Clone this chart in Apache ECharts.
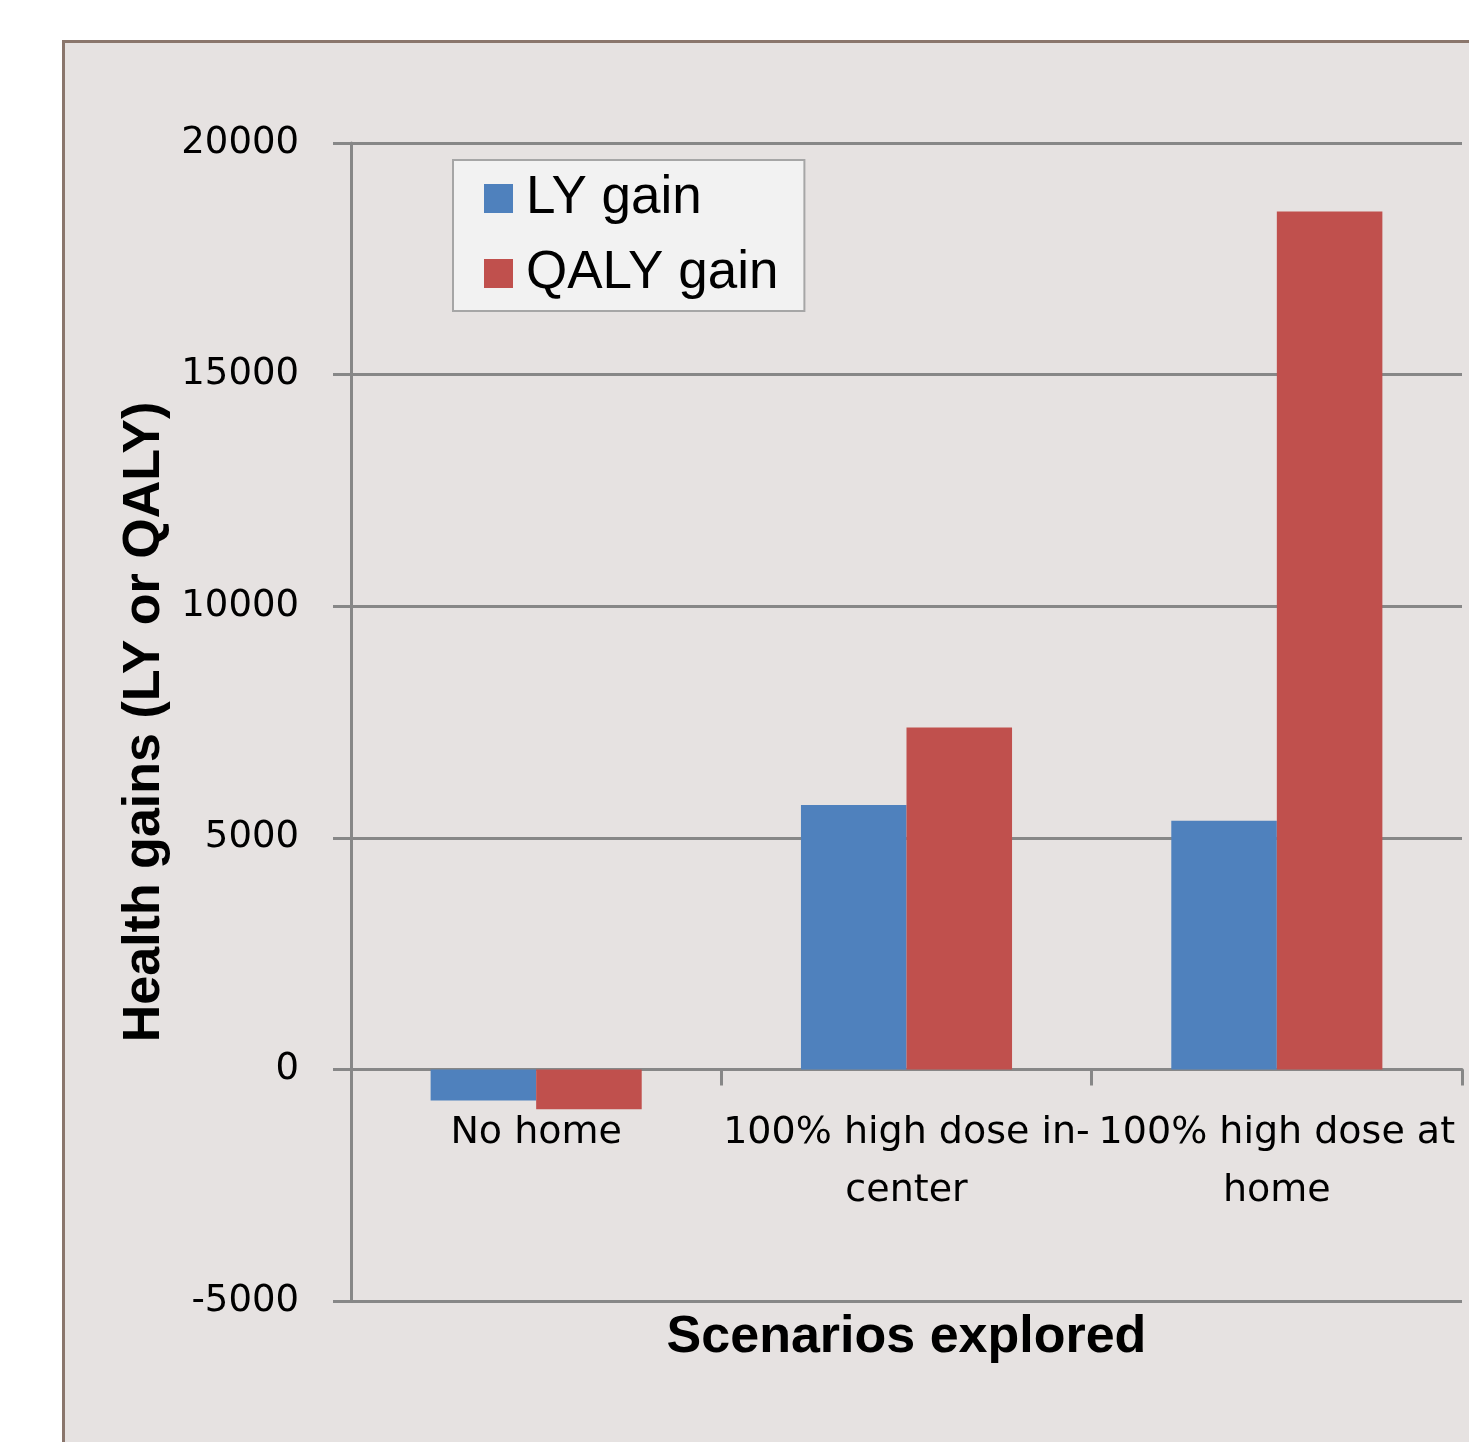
<!DOCTYPE html>
<html>
<head>
<meta charset="utf-8">
<script src="https://cdn.jsdelivr.net/npm/echarts@6/dist/echarts.min.js"></script>
<style>
html,body{margin:0;padding:0;background:#ffffff;width:1469px;height:1442px;overflow:hidden;}
#panel{position:absolute;left:62px;top:40px;width:1500px;height:1500px;background:#e6e2e1;border-left:3px solid #8a766c;border-top:3px solid #8a766c;box-sizing:border-box;}
#chart{position:absolute;left:0;top:0;width:1469px;height:1442px;}
</style>
</head>
<body>
<div id="panel"></div>
<div id="chart"></div>
<script>
const categories = ['No home', '100% high dose in-\ncenter', '100% high dose at\nhome'];
const seriesNames = ['LY gain', 'QALY gain'];
const lyGain = [-670, 5710, 5370];
const qalyGain = [-860, 7380, 18520];
const yTicks = [-5000, 0, 5000, 10000, 15000, 20000];

const chart = echarts.init(document.getElementById('chart'), null, {renderer: 'canvas'});
const gridColor = '#878787';
chart.setOption({
  backgroundColor: 'transparent',
  animation: false,
  grid: {left: 351, top: 143, right: 7, bottom: 141, containLabel: false, outerBoundsMode: 'none'},
  legend: {
    orient: 'vertical',
    left: 453, top: 160,
    padding: [12, 26, 11, 31],
    itemWidth: 29, itemHeight: 29,
    itemGap: 22,
    icon: 'rect',
    backgroundColor: '#f2f2f2',
    borderColor: '#a6a6a6',
    borderWidth: 2,
    textStyle: {fontFamily: 'Liberation Sans', fontSize: 53, color: '#000', padding: [0, 0, 0, 8]},
    data: seriesNames
  },
  xAxis: {
    type: 'category',
    data: categories,
    axisLine: {onZero: true, lineStyle: {color: gridColor, width: 3}},
    axisTick: {show: true, length: 16, lineStyle: {color: gridColor, width: 3}},
    axisLabel: {fontFamily: 'DejaVu Sans', fontSize: 38, color: '#000', margin: -197, lineHeight: 58, interval: 0},
    name: 'Scenarios explored',
    nameLocation: 'middle',
    nameGap: 11,
    nameTextStyle: {fontFamily: 'Liberation Sans', fontWeight: 'bold', fontSize: 52, color: '#000'}
  },
  yAxis: {
    type: 'value',
    min: yTicks[0], max: yTicks[yTicks.length - 1], interval: 5000,
    axisLine: {show: true, lineStyle: {color: gridColor, width: 3}},
    axisTick: {show: true, length: 18, lineStyle: {color: gridColor, width: 3}},
    splitLine: {show: true, lineStyle: {color: gridColor, width: 3}},
    axisLabel: {fontFamily: 'DejaVu Sans', fontSize: 37, color: '#000', margin: 52, formatter: v => String(v)},
    name: 'Health gains (LY or QALY)',
    nameLocation: 'middle',
    nameRotate: 90,
    nameGap: 157,
    nameTextStyle: {fontFamily: 'Liberation Sans', fontWeight: 'bold', fontSize: 52, color: '#000'}
  },
  series: [
    {name: seriesNames[0], type: 'bar', data: lyGain, barGap: '0%', barCategoryGap: '43%', itemStyle: {color: '#4f81bd'}},
    {name: seriesNames[1], type: 'bar', data: qalyGain, barGap: '0%', barCategoryGap: '43%', itemStyle: {color: '#c0504d'}}
  ]
});
</script>
</body>
</html>
